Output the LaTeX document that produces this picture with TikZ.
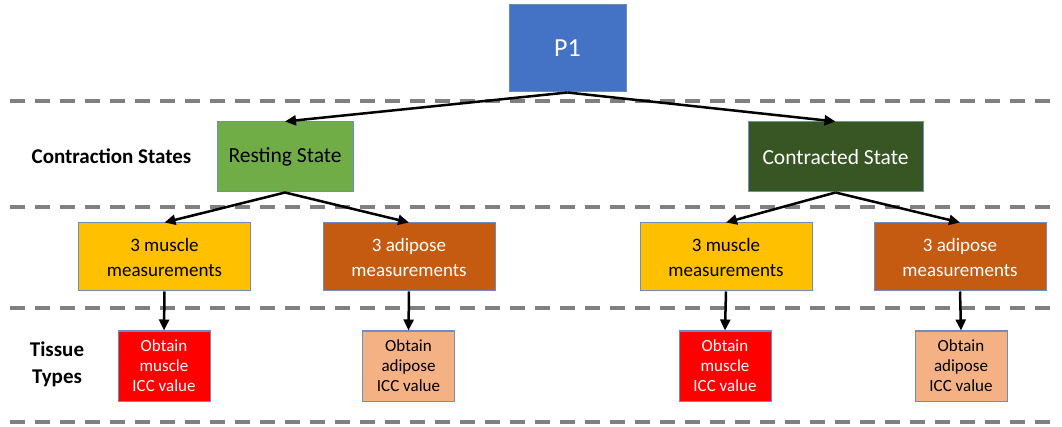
\documentclass[tikz,border=0pt]{standalone}
\usepackage{fontspec}
\setmainfont{Carlito}
\usetikzlibrary{arrows.meta}

\definecolor{pblue}{RGB}{68,114,196}
\definecolor{rgreen}{RGB}{112,173,71}
\definecolor{cgreen}{RGB}{55,86,35}
\definecolor{myellow}{RGB}{255,192,0}
\definecolor{aorange}{RGB}{197,90,17}
\definecolor{ired}{RGB}{255,0,0}
\definecolor{ipeach}{RGB}{244,177,131}
\definecolor{edge}{RGB}{110,140,190}
\definecolor{sepgray}{RGB}{128,128,128}

\begin{document}
\begin{tikzpicture}[x=1pt, y=-1pt,
	b/.style = {rectangle, draw=edge, line width=1pt, inner sep=0pt, align=center},
	s/.style = {b, minimum height=70pt, font=\fontsize{21.5}{24}\selectfont},
	m/.style = {b, minimum width=172pt, minimum height=68pt, font=\fontsize{19}{25}\selectfont},
	o/.style = {b, minimum width=92pt, minimum height=70pt, font=\fontsize{17}{20}\selectfont},
	l/.style = {align=center, font=\fontsize{21}{27}\selectfont\bfseries},
	r/.style = {-{Triangle[length=11pt, width=10pt]}, line width=2.5pt},
	d/.style = {draw=sepgray, line width=4pt, dash pattern=on 15pt off 10pt}
	]
	\useasboundingbox (0,0) rectangle (1062,427);
	
	%Separators
	\foreach \y in {101, 207, 308, 422}
		\draw[d] (10,\y) -- (1058,\y);
	
	%Nodes
	\node[b, fill=pblue, text=white, minimum width=117pt, minimum height=87pt,
		font=\fontsize{26}{30}\selectfont]	(P1)	at	(567.5, 48.5)	{P1};
	
	\node[s, fill=rgreen, minimum width=136pt]			(rest)	at	(285, 157)		{Resting State};
	\node[s, fill=cgreen, text=white, minimum width=175pt]	(contr)	at	(835.5, 157)	{Contracted State};
	
	\node[m, fill=myellow]				(mus1)	at	(164.5, 257)	{3 muscle\\measurements};
	\node[m, fill=aorange, text=white]	(adi1)	at	(409, 257)		{3 adipose\\measurements};
	\node[m, fill=myellow]				(mus2)	at	(726, 257)		{3 muscle\\measurements};
	\node[m, fill=aorange, text=white]	(adi2)	at	(960, 257)		{3 adipose\\measurements};
	
	\node[o, fill=ired, text=white]		(icm1)	at	(164, 366)		{Obtain\\muscle\\ICC value};
	\node[o, fill=ipeach]				(ica1)	at	(408.5, 366)	{Obtain\\adipose\\ICC value};
	\node[o, fill=ired, text=white]		(icm2)	at	(725, 366)		{Obtain\\muscle\\ICC value};
	\node[o, fill=ipeach]				(ica2)	at	(961, 366)		{Obtain\\adipose\\ICC value};
	
	\node[l]	(cs)	at	(111.5, 156)	{Contraction States};
	\node[l]	(tt)	at	(57, 364)	{Tissue\\Types};
	
	%Lines
	\draw[r]	(P1.south)		--	(rest.north);
	\draw[r]	(P1.south)		--	(contr.north);
	\draw[r]	(rest.south)	--	(mus1.north);
	\draw[r]	(rest.south)	--	(adi1.north);
	\draw[r]	(contr.south)	--	(mus2.north);
	\draw[r]	(contr.south)	--	(adi2.north);
	\draw[r]	(mus1.south)	--	(icm1.north);
	\draw[r]	(adi1.south)	--	(ica1.north);
	\draw[r]	(mus2.south)	--	(icm2.north);
	\draw[r]	(adi2.south)	--	(ica2.north);
\end{tikzpicture}
\end{document}
